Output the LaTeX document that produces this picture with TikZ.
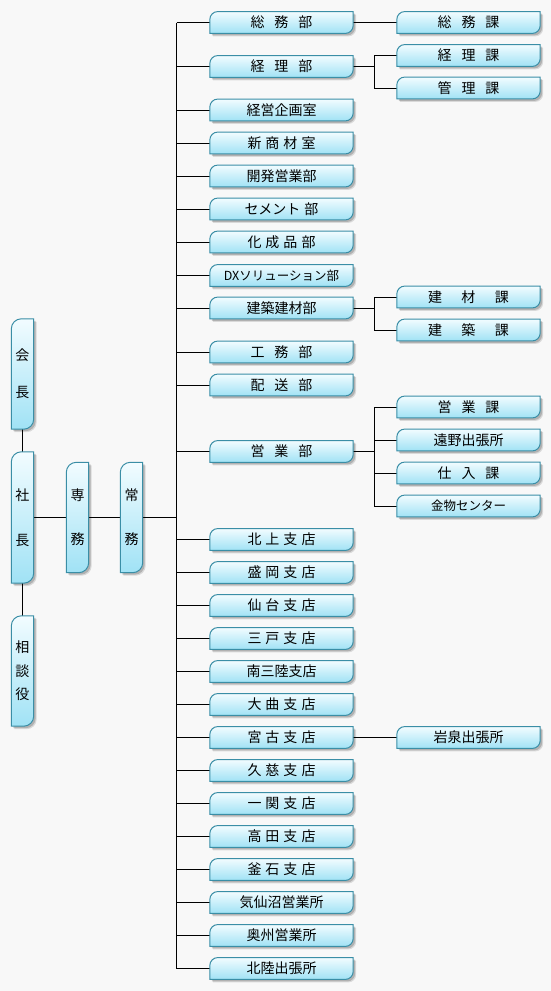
\documentclass[tikz,border=0pt]{standalone}
\usepackage{fontspec}
\newfontfamily\jp{Noto Sans CJK JP}
\usetikzlibrary{shadows}
\pgfdeclarelayer{back}
\pgfdeclarelayer{bg}
\pgfsetlayers{back,bg,main}
\definecolor{bgc}{RGB}{248,248,248}
\definecolor{ltop}{RGB}{242,252,255}
\definecolor{lbot}{RGB}{160,226,245}
\definecolor{lbrd}{RGB}{58,142,166}
\newcommand\gp{\hspace{10pt}}
\newcommand\sg{\hspace{4pt}}
\newcommand\leaf[2][8pt]{\path[leafsty] ([yshift=-#1]#2.north west) arc[start angle=180,end angle=90,radius=#1] -- (#2.north east) -- ([yshift=#1]#2.south east) arc[start angle=0,end angle=-90,radius=#1] -- (#2.south west) -- cycle;}
\begin{document}
\begin{tikzpicture}[x=1pt,y=1pt,
  leafsty/.style={top color=ltop,bottom color=lbot,draw=lbrd,line width=1pt,
    drop shadow={shadow xshift=3pt,shadow yshift=-3pt,fill=black,opacity=0.12},
    drop shadow={shadow xshift=2pt,shadow yshift=-2pt,fill=black,opacity=0.18}},
  hbox/.style={minimum width=143pt,minimum height=21.5pt,inner sep=0pt,font=\jp\fontsize{14}{15}\selectfont},
  vbox/.style={minimum width=22pt,inner sep=0pt,align=center,font=\jp\fontsize{14}{15}\selectfont},
  small/.style={font=\jp\fontsize{12.5}{15}\selectfont},
  conn/.style={line width=1pt,black}]
\begin{pgfonlayer}{back}
\fill[bgc] (0,0) rectangle (551,-991);
\end{pgfonlayer}
\useasboundingbox (0,0) rectangle (551,-991);
% vertical boxes
\node[vbox,minimum height=110pt] (kaicho) at (22.5,-374) {会\\[22pt]長};
\node[vbox,minimum height=131pt] (shacho) at (22.5,-517.5) {社\\[30pt]長};
\node[vbox,minimum height=110pt] (senmu) at (77.5,-517.5) {専\\[29pt]務};
\node[vbox,minimum height=110pt] (jomu) at (131.5,-517.5) {常\\[29pt]務};
\node[vbox,minimum height=110pt] (sodan) at (22.5,-671) {相\\[8.5pt]談\\[8.5pt]役};
% main column
\node[hbox] (soumu) at (281.5,-22.5) {総\gp 務\gp 部};
\node[hbox] (keiri) at (281.5,-66.5) {経\gp 理\gp 部};
\node[hbox] (kikaku) at (281.5,-110) {経営企画室};
\node[hbox] (shinsho) at (281.5,-143) {新\sg 商\sg 材\sg 室};
\node[hbox] (kaihatsu) at (281.5,-176) {開発営業部};
\node[hbox] (cement) at (281.5,-209) {セメント\sg 部};
\node[hbox] (kasei) at (281.5,-242) {化\sg 成\sg 品\sg 部};
\node[hbox,small] (dx) at (281.5,-275.5) {DXソリューション部};
\node[hbox] (kenchiku) at (281.5,-308) {建築建材部};
\node[hbox] (koumu) at (281.5,-352) {工\gp 務\gp 部};
\node[hbox] (haisou) at (281.5,-385) {配\gp 送\gp 部};
\node[hbox] (eigyo) at (281.5,-451.5) {営\gp 業\gp 部};
\node[hbox] (kitakami) at (281.5,-539.5) {北\sg 上\sg 支\sg 店};
\node[hbox] (morioka) at (281.5,-572.5) {盛\sg 岡\sg 支\sg 店};
\node[hbox] (sendai) at (281.5,-605.5) {仙\sg 台\sg 支\sg 店};
\node[hbox] (sannohe) at (281.5,-638.5) {三\sg 戸\sg 支\sg 店};
\node[hbox] (minami) at (281.5,-671.5) {南三陸支店};
\node[hbox] (omagari) at (281.5,-704.5) {大\sg 曲\sg 支\sg 店};
\node[hbox] (miyako) at (281.5,-737.5) {宮\sg 古\sg 支\sg 店};
\node[hbox] (kuji) at (281.5,-770.5) {久\sg 慈\sg 支\sg 店};
\node[hbox] (ichinoseki) at (281.5,-803.5) {一\sg 関\sg 支\sg 店};
\node[hbox] (takata) at (281.5,-836.5) {高\sg 田\sg 支\sg 店};
\node[hbox] (kamaishi) at (281.5,-869.5) {釜\sg 石\sg 支\sg 店};
\node[hbox] (kesennuma) at (281.5,-902.5) {気仙沼営業所};
\node[hbox] (oshu) at (281.5,-935.5) {奥州営業所};
\node[hbox] (hokuriku) at (281.5,-968.5) {北陸出張所};
% right column
\node[hbox] (soumuka) at (468.5,-22.5) {総\gp 務\gp 課};
\node[hbox] (keirika) at (468.5,-55.5) {経\gp 理\gp 課};
\node[hbox] (kanrika) at (468.5,-88) {管\gp 理\gp 課};
\node[hbox] (kenzaika) at (468.5,-297) {建\hspace{19.5pt}材\hspace{19.5pt}課};
\node[hbox] (kenchikuka) at (468.5,-330) {建\hspace{19.5pt}築\hspace{19.5pt}課};
\node[hbox] (eigyoka) at (468.5,-407) {営\gp 業\gp 課};
\node[hbox] (tono) at (468.5,-440) {遠野出張所};
\node[hbox] (shiire) at (468.5,-473) {仕\gp 入\gp 課};
\node[hbox,small] (kanamono) at (468.5,-506) {金物センター};
\node[hbox] (iwaizumi) at (468.5,-737.5) {岩泉出張所};
\coordinate (tr) at (176.5,0);
\coordinate (br) at (374,0);
\begin{pgfonlayer}{bg}
% connectors
\draw[conn] (kaicho) -- (shacho);
\draw[conn] (shacho) -- (sodan);
\draw[conn] (shacho) -- (senmu);
\draw[conn] (senmu) -- (jomu);
\draw[conn] (jomu.east) -- (jomu.east -| tr);
\draw[conn] (soumu.west -| tr) -- (hokuriku.west -| tr);
\foreach \n in {soumu,keiri,kikaku,shinsho,kaihatsu,cement,kasei,dx,kenchiku,koumu,haisou,eigyo,kitakami,morioka,sendai,sannohe,minami,omagari,miyako,kuji,ichinoseki,takata,kamaishi,kesennuma,oshu,hokuriku}
  {\draw[conn] (\n.west -| tr) -- (\n.west);}
\draw[conn] (soumu) -- (soumuka);
\draw[conn] (miyako) -- (iwaizumi);
\draw[conn] (keiri.east) -- (keiri.east -| br);
\draw[conn] (keirika.west) -- (keirika.west -| br) -- (kanrika.west -| br) -- (kanrika.west);
\draw[conn] (kenchiku.east) -- (kenchiku.east -| br);
\draw[conn] (kenzaika.west) -- (kenzaika.west -| br) -- (kenchikuka.west -| br) -- (kenchikuka.west);
\draw[conn] (eigyo.east) -- (eigyo.east -| br);
\draw[conn] (eigyoka.west) -- (eigyoka.west -| br) -- (kanamono.west -| br) -- (kanamono.west);
\draw[conn] (tono.west -| br) -- (tono.west);
\draw[conn] (shiire.west -| br) -- (shiire.west);
% shapes
\foreach \n in {kaicho,shacho,senmu,jomu,sodan} {\leaf[10pt]{\n}}
\foreach \n in {soumu,keiri,kikaku,shinsho,kaihatsu,cement,kasei,dx,kenchiku,koumu,haisou,eigyo,kitakami,morioka,sendai,sannohe,minami,omagari,miyako,kuji,ichinoseki,takata,kamaishi,kesennuma,oshu,hokuriku,soumuka,keirika,kanrika,kenzaika,kenchikuka,eigyoka,tono,shiire,kanamono,iwaizumi} {\leaf{\n}}
\end{pgfonlayer}
\end{tikzpicture}
\end{document}
